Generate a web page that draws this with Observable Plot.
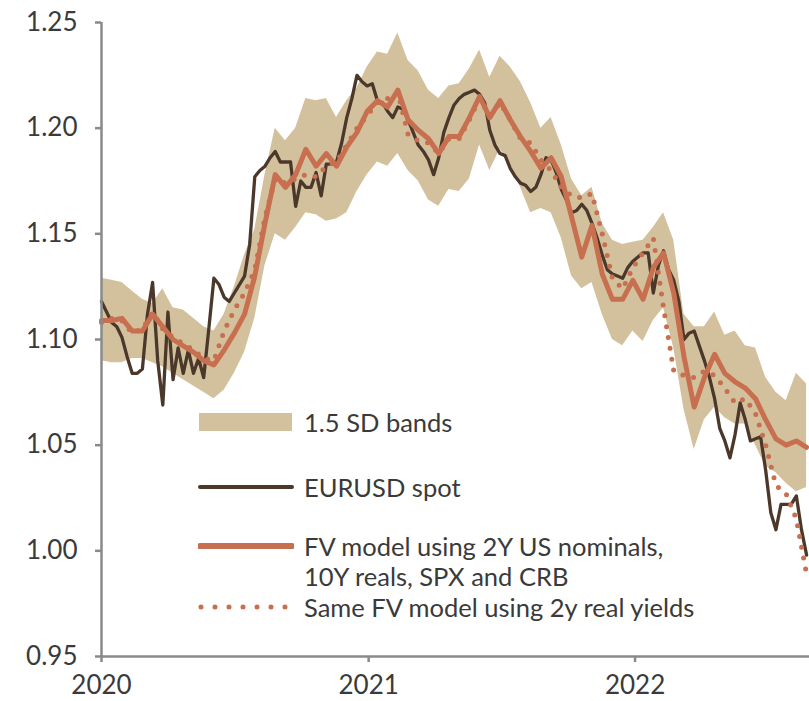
<!DOCTYPE html>
<html>
<head>
<meta charset="utf-8">
<script src="https://cdn.jsdelivr.net/npm/d3@7"></script>
<script src="https://cdn.jsdelivr.net/npm/@observablehq/plot@0.6"></script>
<style>
  html, body { margin: 0; padding: 0; background: #fff; }
  #wrap { position: relative; width: 809px; height: 701px; font-family: Lato, sans-serif; }
  #legend { position: absolute; left: 0; top: 0; width: 809px; height: 701px; pointer-events: none; }
  .sw { position: absolute; }
  .lab { position: absolute; font-family: Lato, sans-serif; font-size: 25.5px; color: #3a3a3a; line-height: 30px; height: 30px; white-space: nowrap; }
</style>
</head>
<body>
<div id="wrap"><div id="chart"></div><div id="legend"></div></div>
<script>
// ---- data ----
const startDate = "2020-01-01";
// EURUSD spot, weekly
const spot = [
  1.118,1.113,1.108,1.106,1.101,1.092,1.084,1.084,1.086,1.112,
  1.127,1.090,1.069,1.113,1.081,1.096,1.084,1.095,1.084,1.091,
  1.082,1.105,1.129,1.126,1.120,1.118,1.122,1.126,1.130,1.145,
  1.177,1.180,1.182,1.186,1.189,1.184,1.184,1.184,1.163,1.175,
  1.172,1.172,1.179,1.168,1.183,1.183,1.184,1.193,1.205,1.214,
  1.225,1.222,1.220,1.221,1.213,1.212,1.208,1.205,1.210,1.209,
  1.204,1.198,1.192,1.189,1.185,1.178,1.186,1.198,1.205,1.211,
  1.214,1.216,1.217,1.218,1.216,1.212,1.199,1.192,1.188,1.187,
  1.181,1.177,1.174,1.173,1.170,1.172,1.178,1.186,1.185,1.179,
  1.171,1.166,1.160,1.161,1.164,1.161,1.155,1.148,1.140,1.133,
  1.131,1.130,1.129,1.134,1.137,1.139,1.141,1.141,1.122,1.135,
  1.142,1.133,1.128,1.118,1.100,1.103,1.104,1.097,1.090,1.082,
  1.072,1.058,1.052,1.044,1.055,1.070,1.062,1.052,1.053,1.054,
  1.038,1.018,1.010,1.022,1.022,1.022,1.026,1.010,0.998
];
// FV model (2Y US nominals, 10Y reals, SPX, CRB), bi-weekly
const fvModel = [
  1.109,1.109,1.110,1.104,1.104,1.112,1.106,1.100,1.097,1.094,
  1.090,1.088,1.095,1.103,1.112,1.130,1.155,1.178,1.172,1.178,
  1.190,1.182,1.188,1.182,1.191,1.198,1.208,1.213,1.210,1.218,
  1.204,1.199,1.195,1.188,1.196,1.196,1.205,1.215,1.205,1.213,
  1.204,1.196,1.189,1.181,1.186,1.177,1.158,1.139,1.154,1.131,
  1.119,1.119,1.128,1.119,1.134,1.141,1.122,1.092,1.068,1.082,
  1.093,1.084,1.080,1.077,1.072,1.062,1.053,1.050,1.052,1.049
];
// Same FV model using 2y real yields, bi-weekly
const fvReal = [
  1.108,1.110,1.109,1.103,1.105,1.113,1.105,1.101,1.098,1.095,
  1.091,1.090,1.104,1.114,1.122,1.133,1.158,1.176,1.174,1.176,
  1.178,1.177,1.182,1.184,1.192,1.200,1.206,1.212,1.214,1.217,
  1.197,1.194,1.193,1.188,1.195,1.195,1.204,1.214,1.206,1.212,
  1.204,1.195,1.193,1.185,1.180,1.172,1.168,1.167,1.169,1.150,
  1.129,1.124,1.134,1.141,1.148,1.115,1.085,1.083,1.082,1.085,
  1.083,1.077,1.070,1.072,1.065,1.050,1.031,1.027,1.015,0.989
];
// 1.5 SD band, bi-weekly
const bandHigh = [
  1.129,1.128,1.127,1.123,1.119,1.117,1.124,1.115,1.114,1.110,
  1.106,1.104,1.112,1.125,1.140,1.152,1.178,1.200,1.194,1.200,
  1.214,1.213,1.214,1.205,1.213,1.219,1.229,1.236,1.235,1.245,
  1.232,1.227,1.218,1.214,1.220,1.221,1.228,1.237,1.224,1.234,
  1.229,1.222,1.212,1.200,1.205,1.192,1.176,1.168,1.172,1.155,
  1.147,1.145,1.146,1.147,1.153,1.160,1.147,1.112,1.106,1.106,
  1.113,1.102,1.104,1.097,1.096,1.082,1.075,1.071,1.084,1.079
];
const bandLow = [
  1.090,1.089,1.089,1.091,1.091,1.089,1.087,1.084,1.081,1.078,
  1.075,1.072,1.076,1.084,1.094,1.110,1.135,1.150,1.147,1.153,
  1.160,1.159,1.156,1.157,1.160,1.170,1.178,1.184,1.182,1.188,
  1.180,1.175,1.166,1.163,1.171,1.170,1.176,1.192,1.180,1.190,
  1.183,1.172,1.160,1.162,1.160,1.148,1.130,1.124,1.127,1.112,
  1.100,1.097,1.104,1.099,1.109,1.115,1.096,1.067,1.048,1.062,
  1.068,1.063,1.060,1.060,1.050,1.040,1.037,1.032,1.028,1.030
];
const yTicks = [0.95, 1.00, 1.05, 1.10, 1.15, 1.20, 1.25];
const xTickYears = ["2020-01-01", "2021-01-01", "2022-01-01"];
const xDomain = ["2020-01-01", "2022-08-28"];
const legendLabels = ["1.5 SD bands", "EURUSD spot", "FV model using 2Y US nominals,", "10Y reals, SPX and CRB", "Same FV model using 2y real yields"];

// ---- build tables ----
const t0 = new Date(startDate);
const spotData = spot.map((v, i) => ({date: d3.utcDay.offset(t0, 7 * i), v}));
const bw = fvModel.map((v, i) => ({
  date: d3.utcDay.offset(t0, 14 * i), fv: v, fv2: fvReal[i], hi: bandHigh[i], lo: bandLow[i]
}));

const colBand = "#d3c19e";
const colSpot = "#4b382a";
const colFV = "#c76f4f";
const axisCol = "#8a8a8a";
const textCol = "#3a3a3a";

const chart = Plot.plot({
  width: 809,
  height: 701,
  marginLeft: 101,
  marginRight: 0,
  marginTop: 22,
  marginBottom: 45,
  style: {fontFamily: "Lato, sans-serif", fontSize: "26px", color: textCol, background: "#fff"},
  x: {type: "utc", domain: xDomain.map(d => new Date(d))},
  y: {domain: [0.95, 1.25]},
  marks: [
    Plot.areaY(bw, {x: "date", y1: "lo", y2: "hi", fill: colBand, curve: "linear"}),
    Plot.lineY(spotData, {x: "date", y: "v", stroke: colSpot, strokeWidth: 3.3, strokeLinejoin: "round"}),
    Plot.lineY(bw, {x: "date", y: "fv2", stroke: colFV, strokeWidth: 5, strokeDasharray: "0 11", strokeLinecap: "round"}),
    Plot.lineY(bw, {x: "date", y: "fv", stroke: colFV, strokeWidth: 5, strokeLinejoin: "round"}),
    Plot.ruleX([new Date(xDomain[0])], {stroke: axisCol, strokeWidth: 2.5, y1: 0.95, y2: 1.25}),
    Plot.ruleY([0.95], {stroke: axisCol, strokeWidth: 2.5}),
    Plot.axisY({ticks: yTicks, tickFormat: d3.format(".2f"), tickSize: 6, tickPadding: 18, stroke: axisCol, strokeWidth: 2.5, color: textCol, fontSize: 26, label: null}),
    Plot.axisX({ticks: xTickYears.map(d => new Date(d)), tickFormat: d3.utcFormat("%Y"), tickSize: 6, tickPadding: 13, stroke: axisCol, strokeWidth: 2.5, fontSize: 26, label: null})
  ]
});
document.getElementById("chart").appendChild(chart);

// ---- legend overlay ----
const legend = document.getElementById("legend");
const swatches = [
  {top: 412, svg: `<svg width="96" height="20"><rect x="1" y="1" width="93" height="18" fill="${colBand}"/></svg>`},
  {top: 477, svg: `<svg width="96" height="20"><line x1="2" y1="10" x2="94" y2="10" stroke="${colSpot}" stroke-width="4" stroke-linecap="round"/></svg>`},
  {top: 536, svg: `<svg width="96" height="20"><line x1="2" y1="10" x2="94" y2="10" stroke="${colFV}" stroke-width="6" stroke-linecap="round"/></svg>`},
  {top: 597, svg: `<svg width="96" height="20"><line x1="3" y1="10" x2="90" y2="10" stroke="${colFV}" stroke-width="5" stroke-dasharray="0 14" stroke-linecap="round"/></svg>`}
];
swatches.forEach(s => {
  const d = document.createElement("div");
  d.className = "sw";
  d.style.left = "198px";
  d.style.top = s.top + "px";
  d.innerHTML = s.svg;
  legend.appendChild(d);
});
const labelTops = [407, 472, 531, 561, 592];
legendLabels.forEach((lab, i) => {
  const d = document.createElement("div");
  d.className = "lab";
  d.style.left = "304px";
  d.style.top = labelTops[i] + "px";
  d.textContent = lab;
  legend.appendChild(d);
});
</script>
</body>
</html>
